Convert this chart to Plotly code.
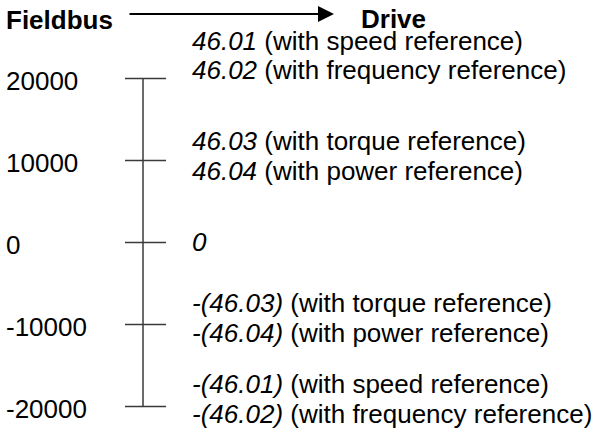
import plotly.graph_objects as go

# ---- data ----
scale_values = [20000, 10000, 0, -10000, -20000]
scale_labels = ["20000", "10000", "0", "-10000", "-20000"]
# right-hand descriptions: (scale value, italic part, plain part)
desc_values = [20000, 20000, 10000, 10000, 0, -10000, -10000, -20000, -20000]
desc_italic = ["46.01", "46.02", "46.03", "46.04", "0",
               "-(46.03)", "-(46.04)", "-(46.01)", "-(46.02)"]
desc_plain = [" (with speed reference)", " (with frequency reference)",
              " (with torque reference)", " (with power reference)", "",
              " (with torque reference)", " (with power reference)",
              " (with speed reference)", " (with frequency reference)"]
header_left = "Fieldbus"
header_right = "Drive"

# ---- layout constants (pixels) ----
W, H = 601, 436
FONT = "Liberation Sans, Arial, sans-serif"
FS = 26
Y0_PX = 242.5        # pixel row of value 0
PX_PER_UNIT = 82 / 10000
AXIS_X = 143
TICK_L, TICK_R = 125, 166
LINE_COLOR = "#3a3a3a"
desc_shift = [38, 9, 20, -10, 1, 22, -8, 23, -7]  # pixel offsets (up = +)

y_top = Y0_PX / PX_PER_UNIT
y_bot = (Y0_PX - H) / PX_PER_UNIT

fig = go.Figure()

# vertical scale line
fig.add_trace(go.Scatter(
    x=[AXIS_X, AXIS_X], y=[min(scale_values), max(scale_values)],
    mode="lines", line=dict(color=LINE_COLOR, width=1.5),
    hoverinfo="skip", showlegend=False))

# tick marks
for v in scale_values:
    fig.add_trace(go.Scatter(
        x=[TICK_L, TICK_R], y=[v, v], mode="lines",
        line=dict(color=LINE_COLOR, width=1.5),
        hoverinfo="skip", showlegend=False))

annotations = []
for v, lab in zip(scale_values, scale_labels):
    annotations.append(dict(
        x=4, y=v, xref="x", yref="y", text=lab, showarrow=False,
        xanchor="left", yanchor="middle", yshift=-2,
        font=dict(family=FONT, size=FS, color="black")))

for v, it, pl, sh in zip(desc_values, desc_italic, desc_plain, desc_shift):
    annotations.append(dict(
        x=190, y=v, xref="x", yref="y", text=f"<i>{it}</i>{pl}",
        showarrow=False, xanchor="left", yanchor="middle", yshift=sh,
        font=dict(family=FONT, size=FS, color="black")))

# header
annotations.append(dict(
    x=4, y=1 - 20 / H, xref="x", yref="paper", text=f"<b>{header_left}</b>",
    showarrow=False, xanchor="left", yanchor="middle",
    font=dict(family=FONT, size=FS, color="black")))
annotations.append(dict(
    x=359, y=1 - 19 / H, xref="x", yref="paper", text=f"<b>{header_right}</b>",
    showarrow=False, xanchor="left", yanchor="middle",
    font=dict(family=FONT, size=FS, color="black")))
# arrow
annotations.append(dict(
    x=334, y=1 - 14 / H, xref="x", yref="paper",
    ax=128, ay=0, axref="x", ayref="pixel",
    text="", showarrow=True, arrowhead=2, arrowsize=1.6, arrowwidth=2,
    arrowcolor="black"))

fig.update_layout(
    width=W, height=H, margin=dict(l=0, r=0, t=0, b=0),
    paper_bgcolor="white", plot_bgcolor="white",
    xaxis=dict(range=[0, W], visible=False, fixedrange=True),
    yaxis=dict(range=[y_bot, y_top], visible=False, fixedrange=True),
    annotations=annotations, showlegend=False)

fig.write_html(
    "out.html",
    config={"displayModeBar": False},
    post_script="document.body.style.margin='0';document.body.style.overflow='hidden';")
